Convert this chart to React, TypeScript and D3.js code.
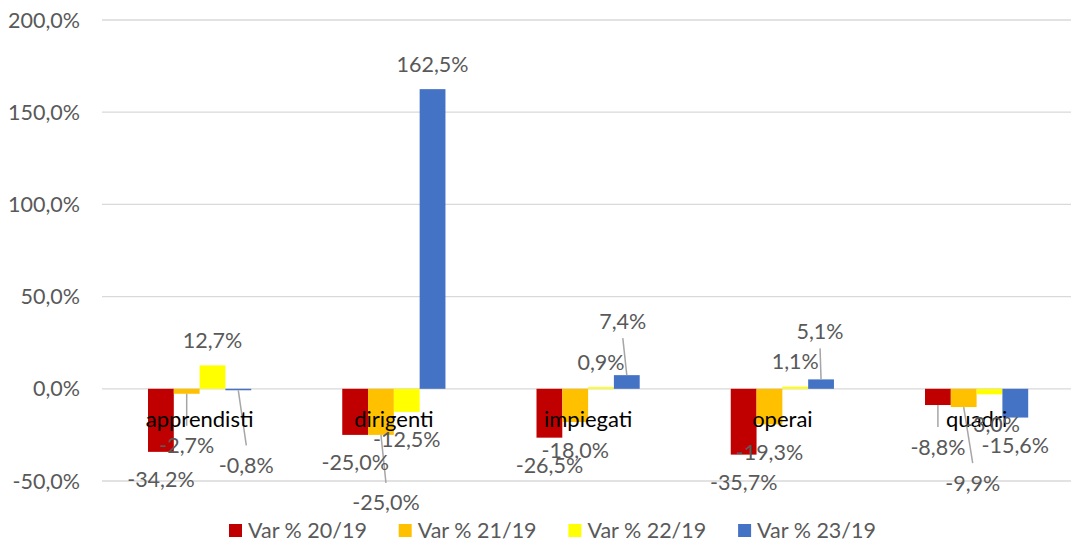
import * as d3 from 'd3'

const W = 1071, H = 541

const CATEGORIES = ['apprendisti', 'dirigenti', 'impiegati', 'operai', 'quadri']
const SERIES = ['Var % 20/19', 'Var % 21/19', 'Var % 22/19', 'Var % 23/19']
const COLORS = ['#C00000', '#FFC000', '#FFFF00', '#4472C4']

const VAR_20_19 = [-34.2, -25.0, -26.5, -35.7, -8.8]
const VAR_21_19 = [-2.7, -25.0, -18.0, -19.3, -9.9]
const VAR_22_19 = [12.7, -12.5, 0.9, 1.1, -3.0]
const VAR_23_19 = [-0.8, 162.5, 7.4, 5.1, -15.6]
const VALUES = [VAR_20_19, VAR_21_19, VAR_22_19, VAR_23_19]

const Y_TICKS = [-50, 0, 50, 100, 150, 200]

// labels that were dragged by hand in the original (dx, dy from bar end, leader line)
const MOVED: Record<string, [number, number, boolean]> = {
  '0-1': [0, 52, true],
  '0-3': [8, 75, true],
  '1-1': [5, 68, true],
  '2-3': [-4, -54, true],
  '3-3': [-1, -48, true],
  '4-0': [0, 42, true],
  '4-1': [9, 76, true],
  '4-2': [3, 30, false],
}

const FONT = 'Lato, "Open Sans", sans-serif'
const fmt = (v: number) => v.toFixed(1).replace('.', ',') + '%'

export default function App() {
  const y = d3.scaleLinear([-50, 200], [481, 20])
  const x0 = d3.scaleBand(CATEGORIES, [102.5, 1073.75])
  const x1 = d3.scaleBand(SERIES, [45.5, 148.7])

  const bars: any[] = []
  const labels: any[] = []
  CATEGORIES.forEach((c, ci) => {
    SERIES.forEach((s, si) => {
      const v = VALUES[si][ci]
      const bx = (x0(c) as number) + (x1(s) as number)
      const bw = x1.bandwidth()
      const cx = bx + bw / 2
      const yv = y(v)
      bars.push({ key: `${ci}-${si}`, x: bx, w: bw, y: Math.min(yv, y(0)), h: Math.abs(yv - y(0)), fill: COLORS[si] })
      const mv = MOVED[`${ci}-${si}`]
      const dx = mv ? mv[0] : 0
      const dy = mv ? mv[1] : v < 0 ? 28 : -25
      const lx = cx + dx, ly = yv + dy
      labels.push({ key: `${ci}-${si}`, x: lx, y: ly, text: fmt(v), leader: mv && mv[2] ? { x1: cx, y1: yv, x2: lx, y2: dy > 0 ? ly - 20 : ly + 17 } : null })
    })
  })

  return (
    <svg width={W} height={H} style={{ position: 'absolute', left: 0, top: 0, background: '#fff' }} fontFamily={FONT}>
      {Y_TICKS.map(t => (
        <g key={t}>
          <line x1={102} x2={W} y1={y(t)} y2={y(t)} stroke="#d9d9d9" strokeWidth={1.3} />
          <text x={80} y={y(t)} dy="0.35em" textAnchor="end" fontSize={21.5} fill="#595959">{fmt(t)}</text>
        </g>
      ))}
      {bars.map(b => <rect key={b.key} x={b.x} y={b.y} width={b.w} height={b.h} fill={b.fill} />)}
      {labels.filter(l => l.leader).map(l => (
        <line key={'l' + l.key} x1={l.leader.x1} y1={l.leader.y1} x2={l.leader.x2} y2={l.leader.y2} stroke="#a6a6a6" strokeWidth={1.5} />
      ))}
      {CATEGORIES.map(c => (
        <text key={c} x={(x0(c) as number) + x0.bandwidth() / 2} y={y(0) + 38} textAnchor="middle" fontSize={22} fill="#000">{c}</text>
      ))}
      {labels.map(l => (
        <text key={l.key} x={l.x} y={l.y} dy="0.35em" textAnchor="middle" fontSize={21.5} fill="#595959">{l.text}</text>
      ))}
      {SERIES.map((s, i) => (
        <g key={s} transform={`translate(${229 + i * 169.7},524)`}>
          <rect width={13} height={13} fill={COLORS[i]} />
          <text x={19} y={6.5} dy="0.35em" fontSize={21.5} fill="#595959">{s}</text>
        </g>
      ))}
    </svg>
  )
}
